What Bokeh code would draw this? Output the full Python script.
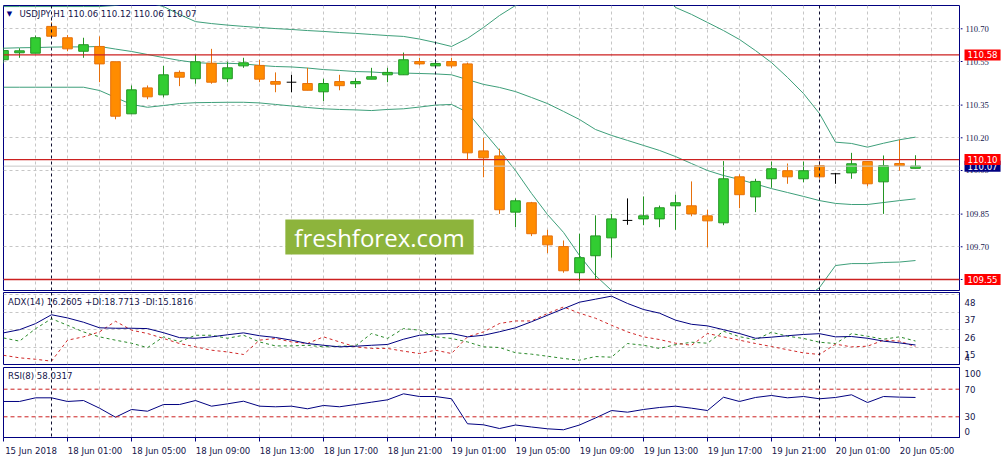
from bokeh.plotting import figure
from bokeh.layouts import column, row
from bokeh.models import (ColumnDataSource, Range1d, FixedTicker, Span, Label, LabelSet,
                          Grid)
from bokeh.embed import file_html
from bokeh.resources import INLINE

# ---------------- data ----------------
symbol = "USDJPY,H1"

opens = [110.558, 110.590, 110.588, 110.711, 110.659, 110.597, 110.619, 110.549, 110.310, 110.429,
         110.397, 110.500, 110.471, 110.542, 110.471, 110.530, 110.532, 110.458, 110.455, 110.449,
         110.411, 110.458, 110.448, 110.469, 110.489, 110.489, 110.550, 110.530, 110.550, 110.539,
         110.140, 110.117, 109.859, 109.902, 109.750, 109.701, 109.581, 109.659, 109.741, 109.821,
         109.828, 109.828, 109.888, 109.888, 109.842, 109.810, 110.021, 109.929, 110.012, 110.049,
         110.012, 110.072, 110.035, 110.039, 110.091, 109.998, 110.082, 110.06]
highs = [110.614, 110.611, 110.669, 110.730, 110.671, 110.659, 110.665, 110.549, 110.440, 110.440,
         110.530, 110.509, 110.581, 110.608, 110.549, 110.567, 110.558, 110.500, 110.489, 110.521,
         110.471, 110.489, 110.473, 110.521, 110.521, 110.591, 110.567, 110.558, 110.567, 110.545,
         110.200, 110.150, 109.922, 109.906, 109.778, 109.729, 109.760, 109.844, 109.851, 109.922,
         109.931, 109.889, 109.939, 110.000, 109.870, 110.093, 110.032, 110.012, 110.091, 110.082,
         110.091, 110.091, 110.039, 110.131, 110.091, 110.119, 110.191, 110.12]
lows = [110.541, 110.567, 110.588, 110.666, 110.597, 110.567, 110.455, 110.285, 110.310, 110.377,
        110.386, 110.437, 110.448, 110.448, 110.455, 110.521, 110.455, 110.409, 110.409, 110.418,
        110.368, 110.418, 110.428, 110.469, 110.455, 110.489, 110.532, 110.521, 110.521, 110.100,
        110.019, 109.851, 109.790, 109.749, 109.671, 109.581, 109.542, 109.549, 109.650, 109.801,
        109.799, 109.790, 109.778, 109.840, 109.698, 109.799, 109.877, 109.859, 109.971, 109.989,
        109.996, 110.012, 109.989, 110.012, 109.978, 109.851, 110.049, 110.06]
closes = [110.600, 110.599, 110.659, 110.666, 110.608, 110.627, 110.539, 110.299, 110.420, 110.388,
          110.489, 110.478, 110.549, 110.455, 110.521, 110.544, 110.469, 110.446, 110.455, 110.418,
          110.449, 110.439, 110.458, 110.480, 110.500, 110.558, 110.539, 110.541, 110.530, 110.131,
          110.108, 109.870, 109.911, 109.760, 109.709, 109.590, 109.650, 109.750, 109.828, 109.821,
          109.842, 109.879, 109.902, 109.851, 109.819, 110.012, 109.939, 110.000, 110.058, 110.021,
          110.049, 110.021, 110.035, 110.081, 109.989, 110.072, 110.072, 110.07]

bb_upper = [110.802, 110.802, 110.802, 110.802, 110.802, 110.802, 110.802, 110.807, 110.821, 110.821,
            110.802, 110.766, 110.733, 110.724, 110.717, 110.711, 110.706, 110.701, 110.697, 110.692,
            110.688, 110.683, 110.679, 110.674, 110.669, 110.665, 110.653, 110.637, 110.619, 110.656,
            110.706, 110.761, 110.807, 110.825, 110.867, 110.876, 110.908, 110.908, 110.922, 110.913,
            110.894, 110.867, 110.798, 110.766, 110.729, 110.692, 110.651, 110.600, 110.545, 110.477,
            110.403, 110.311, 110.180, 110.174, 110.157, 110.175, 110.191, 110.203]
bb_middle = [110.611, 110.613, 110.614, 110.616, 110.617, 110.617, 110.619, 110.607, 110.596, 110.582,
             110.568, 110.555, 110.545, 110.541, 110.542, 110.539, 110.532, 110.527, 110.525, 110.520,
             110.513, 110.509, 110.504, 110.502, 110.497, 110.497, 110.495, 110.493, 110.489, 110.467,
             110.445, 110.431, 110.412, 110.385, 110.357, 110.321, 110.284, 110.238, 110.211, 110.188,
             110.165, 110.142, 110.114, 110.082, 110.050, 110.027, 110.009, 109.988, 109.967, 109.949,
             109.931, 109.912, 109.899, 109.894, 109.894, 109.903, 109.912, 109.920]
bb_lower = [110.432, 110.432, 110.432, 110.432, 110.432, 110.432, 110.417, 110.385, 110.353, 110.340,
            110.348, 110.357, 110.361, 110.362, 110.363, 110.363, 110.360, 110.353, 110.346, 110.339,
            110.333, 110.330, 110.328, 110.325, 110.330, 110.333, 110.341, 110.350, 110.353, 110.317,
            110.229, 110.142, 110.050, 109.945, 109.848, 109.766, 109.660, 109.568, 109.500, 109.463,
            109.435, 109.425, 109.431, 109.399, 109.371, 109.362, 109.367, 109.376, 109.389, 109.422,
            109.458, 109.513, 109.614, 109.623, 109.623, 109.628, 109.630, 109.637]

adx = [23.9, 25.9, 29.7, 35.3, 33.3, 30.6, 27.1, 26.8, 26.8, 26.6,
       24.0, 20.9, 20.5, 21.4, 22.7, 23.9, 22.1, 21.0, 19.3, 17.2,
       16.1, 15.1, 15.5, 16.1, 16.6, 19.9, 22.4, 23.1, 23.5, 21.4,
       22.4, 24.6, 27.1, 30.9, 35.0, 39.1, 43.2, 45.1, 47.0, 42.4,
       38.6, 36.3, 31.9, 29.3, 28.3, 25.9, 23.5, 20.5, 21.2, 22.1,
       22.9, 23.4, 21.4, 21.6, 20.5, 18.7, 17.6, 16.2605]
plus_di = [20.7, 18.7, 26.5, 32.8, 28.7, 24.5, 21.4, 19.3, 17.4, 14.6,
           21.4, 18.3, 22.4, 22.4, 20.5, 22.4, 18.2, 15.7, 15.7, 16.1,
           15.1, 15.5, 15.7, 23.5, 20.4, 26.6, 25.6, 21.4, 20.4, 18.2,
           15.1, 14.7, 11.4, 10.5, 9.2, 7.8, 6.7, 9.0, 8.6, 17.2,
           16.1, 14.1, 16.5, 18.0, 17.4, 24.9, 21.5, 19.6, 24.3, 21.8,
           20.4, 18.0, 17.2, 23.4, 21.8, 19.9, 21.4, 18.7713]
minus_di = [9.8, 8.2, 7.3, 6.1, 19.3, 21.4, 24.5, 31.2, 25.6, 23.5,
            20.4, 17.2, 15.1, 13.0, 11.9, 10.3, 19.3, 20.4, 18.2, 17.2,
            21.4, 18.2, 15.1, 14.1, 14.1, 12.4, 10.9, 13.0, 10.9, 21.4,
            24.5, 29.8, 31.4, 31.4, 36.1, 40.2, 36.3, 33.1, 28.7, 24.5,
            21.4, 19.7, 17.4, 16.1, 23.5, 21.4, 19.3, 17.2, 15.3, 13.3,
            11.3, 10.3, 16.8, 15.1, 15.5, 19.3, 18.7, 15.1816]
rsi = [52.2, 52.2, 57.5, 57.5, 52.2, 53.6, 42.5, 29.4, 40.6, 38.1,
       47.8, 47.8, 53.6, 45.4, 48.8, 52.6, 45.4, 44.5, 45.4, 41.6,
       46.4, 44.5, 47.8, 51.2, 54.6, 63.3, 59.4, 59.4, 56.1, 19.9,
       18.4, 13.0, 18.1, 15.2, 12.6, 11.2, 18.1, 28.3, 39.1, 36.7,
       40.6, 43.5, 45.4, 42.5, 39.1, 58.4, 52.2, 58.0, 60.9, 57.5,
       59.4, 56.1, 58.0, 61.9, 50.7, 59.4, 58.5, 58.0317]

time_tick_bars = [0, 4, 8, 12, 16, 20, 24, 28, 32, 36, 40, 44, 48, 52, 56]
time_tick_labels = ["15 Jun 2018", "18 Jun 01:00", "18 Jun 05:00", "18 Jun 09:00",
                    "18 Jun 13:00", "18 Jun 17:00", "18 Jun 21:00", "19 Jun 01:00",
                    "19 Jun 05:00", "19 Jun 09:00", "19 Jun 13:00", "19 Jun 17:00",
                    "19 Jun 21:00", "20 Jun 01:00", "20 Jun 05:00"]
day_start_bars = [3, 27, 51]
price_ticks = [110.70, 110.55, 110.35, 110.20, 110.05, 109.85, 109.70, 109.55]
price_levels = [110.58, 110.10, 109.55]
adx_ticks = [48, 37, 26, 15, 4]
rsi_ticks = [100, 70, 30, 0]
rsi_levels = [70, 30]

# ---------------- style ----------------
FONT = "DejaVu Sans"
FS = "8.6px"
NAVY = "#000080"
TXT = "#14144a"
GRID = "#c6c6c6"
SEP = "#101030"
BULL_FILL, BULL_LINE = "#32cd32", "#239423"
BEAR_FILL, BEAR_LINE = "#ff8c00", "#e6700c"
DOJI = "#000000"
BB = "#3e9f7a"
RED = "#cc2020"
BOX_RED = "#ff0000"

n = len(closes)
bars = list(range(n))
FRAME_W = 956
x_range = Range1d(0, FRAME_W / 16)
BODY_W = 0.6
MAIN_TOP, MAIN_BOTTOM = 5, 1


def style_frame(p):
    p.grid.visible = False
    p.outline_line_color = NAVY
    p.outline_line_width = 1
    p.background_fill_color = "white"
    p.border_fill_color = "white"
    p.add_layout(Grid(dimension=0, ticker=FixedTicker(ticks=list(range(0, n + 3, 2))),
                      grid_line_color=GRID, grid_line_dash="3 3"))
    for d in day_start_bars:
        p.add_layout(Span(location=d, dimension="height", line_color=SEP,
                          line_dash="3 3", line_width=1))


def base_fig(height, y0, y1, border_top, border_bottom, xaxis=False):
    p = figure(frame_width=FRAME_W, height=height, x_range=x_range,
               y_range=Range1d(y0, y1), output_backend="svg", toolbar_location=None,
               y_axis_location="right",
               x_axis_location="below" if xaxis else None,
               min_border_left=3, min_border_right=40, min_border_top=border_top,
               min_border_bottom=border_bottom)
    style_frame(p)
    ya = p.yaxis[0]
    ya.axis_line_color = NAVY
    ya.major_tick_line_color = NAVY
    ya.minor_tick_line_color = None
    ya.major_tick_in = 0
    ya.major_tick_out = 0
    ya.major_label_standoff = 5
    ya.major_label_text_font = FONT
    ya.major_label_text_font_size = FS
    ya.major_label_text_color = TXT
    return p


def header(p, text, x, y):
    p.add_layout(Label(x=x, y=y, x_units="screen", y_units="screen", text=text,
                       text_font=FONT, text_font_size=FS, text_color=TXT,
                       text_baseline="middle", text_align="left"))


# ---------------- main price panel ----------------
price_range = Range1d(109.4995, 110.8069)
main = figure(frame_width=FRAME_W, height=291, x_range=x_range, y_range=price_range,
              output_backend="svg", toolbar_location=None,
              x_axis_location=None, y_axis_location=None,
              min_border_left=3, min_border_right=1, min_border_top=MAIN_TOP,
              min_border_bottom=MAIN_BOTTOM)
style_frame(main)
main.add_layout(Grid(dimension=1, ticker=FixedTicker(ticks=price_ticks),
                     grid_line_color=GRID, grid_line_dash="3 3"))

# bid line
main.add_layout(Span(location=closes[-1], dimension="width", line_color="#c8c8c8", line_width=1))

# bollinger bands
for band in (bb_upper, bb_middle, bb_lower):
    main.line(bars, band, line_color=BB, line_width=1)

# candles
wick_col, b_top, b_bot, b_fill, b_line, b_x = [], [], [], [], [], []
dj_x0, dj_x1, dj_y = [], [], []
for i, (o, h, l, c) in enumerate(zip(opens, highs, lows, closes)):
    if c > o:
        wick_col.append(BULL_LINE)
        b_x.append(i); b_top.append(c); b_bot.append(o)
        b_fill.append(BULL_FILL); b_line.append(BULL_LINE)
    elif c < o:
        wick_col.append(BEAR_LINE)
        b_x.append(i); b_top.append(o); b_bot.append(c)
        b_fill.append(BEAR_FILL); b_line.append(BEAR_LINE)
    else:
        wick_col.append(DOJI)
        dj_x0.append(i - BODY_W / 2); dj_x1.append(i + BODY_W / 2); dj_y.append(o)

wsrc = ColumnDataSource(dict(x=bars, high=highs, low=lows, color=wick_col))
main.segment(x0="x", y0="low", x1="x", y1="high", line_color="color", line_width=1, source=wsrc)
bsrc = ColumnDataSource(dict(x=b_x, top=b_top, bottom=b_bot, fill=b_fill, line=b_line))
main.vbar(x="x", width=BODY_W, top="top", bottom="bottom", fill_color="fill",
          line_color="line", line_width=1, source=bsrc)
dsrc = ColumnDataSource(dict(x0=dj_x0, x1=dj_x1, y=dj_y))
main.segment(x0="x0", y0="y", x1="x1", y1="y", line_color=DOJI, line_width=1, source=dsrc)

# horizontal levels
for lvl in price_levels:
    main.add_layout(Span(location=lvl, dimension="width", line_color=RED, line_width=1.3))

# headers & watermark
main.add_layout(Label(x=6, y=276.7, x_units="screen", y_units="screen", text="\u25bc",
                      text_font=FONT, text_font_size="7px", text_color=NAVY,
                      text_baseline="middle", text_align="center"))
header(main, "%s  %.2f %.2f %.2f %.2f" % (symbol, opens[-1], highs[-1], lows[-1], closes[-1]),
       16, 276.7)
main.add_layout(Label(x=376, y=53.5, x_units="screen", y_units="screen",
                      text="freshforex.com", text_font="Open Sans", text_font_size="24px",
                      text_color="white", text_align="center", text_baseline="middle",
                      background_fill_color="#8db43c", padding=(9, 1)))

# ---------------- price scale strip (right of the main panel) ----------------
scale = figure(width=41, height=291, x_range=Range1d(0, 41), y_range=price_range,
               output_backend="svg", toolbar_location=None,
               x_axis_location=None, y_axis_location=None,
               min_border_left=0, min_border_right=0, min_border_top=MAIN_TOP,
               min_border_bottom=MAIN_BOTTOM)
scale.grid.visible = False
scale.outline_line_color = None
scale.background_fill_color = "white"
scale.border_fill_color = "white"
scale.segment(x0=[0] * len(price_ticks), y0=price_ticks, x1=[2] * len(price_ticks),
              y1=price_ticks, line_color=NAVY, line_width=1)
tick_src = ColumnDataSource(dict(x=[5] * len(price_ticks), y=price_ticks,
                                 text=["%.2f" % v for v in price_ticks]))
scale.add_layout(LabelSet(x="x", y="y", text="text", source=tick_src, x_units="data",
                          y_units="data", text_font=FONT, text_font_size=FS, text_color=TXT,
                          text_baseline="middle", text_align="left"))
# current price box (under) then level boxes (over)
box_values = [closes[-1]] + price_levels
box_colors = [NAVY] + [BOX_RED] * len(price_levels)
for v, col in zip(box_values, box_colors):
    scale.add_layout(Label(x=4, y=v, x_units="data", y_units="data", text="%.2f" % v,
                           text_font=FONT, text_font_size=FS, text_color="white",
                           text_baseline="middle", text_align="left",
                           background_fill_color=col, padding=(3, 2)))

# ---------------- ADX panel ----------------
ADX_MIN, ADX_MAX = 4, 49.3
ADX_PPU = 72 / (ADX_MAX - ADX_MIN)
adx_fig = base_fig(74, ADX_MIN, ADX_MAX, 1, 1)
adx_fig.add_layout(Grid(dimension=1, ticker=FixedTicker(ticks=adx_ticks[:-1]),
                        grid_line_color=GRID, grid_line_dash="3 3"))
adx_label_pos = [round(max(v - 7.5 / ADX_PPU, ADX_MIN + 6.5 / ADX_PPU), 3) for v in adx_ticks]
adx_fig.yaxis[0].ticker = FixedTicker(ticks=adx_label_pos)
adx_fig.yaxis[0].major_label_overrides = {p: str(v) for p, v in zip(adx_label_pos, adx_ticks)}
adx_fig.line(bars, plus_di, line_color="#2a8a2a", line_width=1, line_dash="3 3")
adx_fig.line(bars, minus_di, line_color="#d02828", line_width=1, line_dash="3 3")
adx_fig.line(bars, adx, line_color=NAVY, line_width=1)
header(adx_fig, "ADX(14) %.4f +DI:%.4f -DI:%.4f" % (adx[-1], plus_di[-1], minus_di[-1]), 4.5, 63)

# ---------------- RSI panel ----------------
RSI_MIN, RSI_MAX = 0, 101.45
RSI_PPU = 70 / (RSI_MAX - RSI_MIN)
rsi_fig = base_fig(94, RSI_MIN, RSI_MAX, 2, 22, xaxis=True)
rsi_label_pos = [round(min(max(v, RSI_MIN + 6.5 / RSI_PPU), RSI_MAX - 6.5 / RSI_PPU), 3)
                 for v in rsi_ticks]
rsi_fig.yaxis[0].ticker = FixedTicker(ticks=rsi_label_pos)
rsi_fig.yaxis[0].major_label_overrides = {p: str(v) for p, v in zip(rsi_label_pos, rsi_ticks)}
for lv in rsi_levels:
    rsi_fig.add_layout(Span(location=lv, dimension="width", line_color="#cc2020",
                            line_dash="4 3", line_width=1))
rsi_fig.line(bars, rsi, line_color=NAVY, line_width=1)
header(rsi_fig, "RSI(8) %.4f" % rsi[-1], 4.5, 61.7)

LABEL_SHIFT = 1.72
label_pos = [b + LABEL_SHIFT for b in time_tick_bars]
xa = rsi_fig.xaxis[0]
xa.ticker = FixedTicker(ticks=label_pos, minor_ticks=time_tick_bars)
xa.major_label_overrides = {p: t for p, t in zip(label_pos, time_tick_labels)}
xa.axis_line_color = NAVY
xa.major_tick_out = 0
xa.major_tick_in = 0
xa.minor_tick_in = 0
xa.minor_tick_out = 4
xa.minor_tick_line_color = NAVY
xa.major_label_standoff = 4
xa.major_label_text_font = FONT
xa.major_label_text_font_size = FS
xa.major_label_text_color = TXT

layout = column(row(main, scale, spacing=0), adx_fig, rsi_fig, spacing=0)
open("out.html", "w").write(file_html(layout, INLINE))
